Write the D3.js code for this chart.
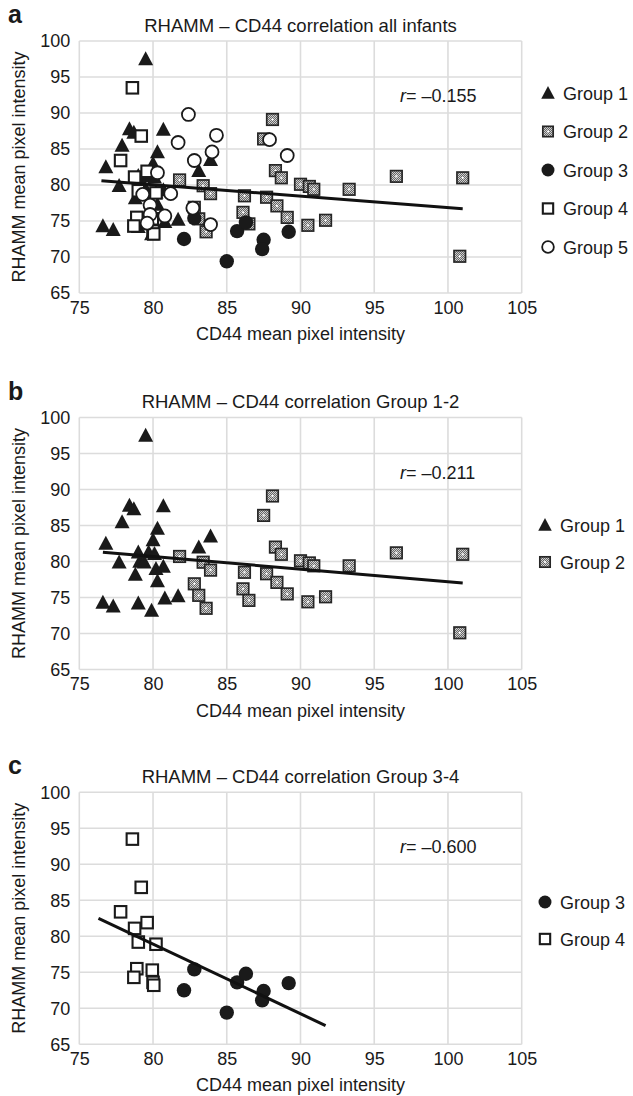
<!DOCTYPE html>
<html><head><meta charset="utf-8">
<script src="https://cdn.jsdelivr.net/npm/d3@7"></script>
<style>
html,body{margin:0;padding:0;background:#fff;}
text{font-family:"Liberation Sans",Arial,Helvetica,sans-serif;fill:#1a1a1a;}
</style></head>
<body><svg id="c" width="633" height="1096"></svg>
<script>
// ---------- data ----------
const xTicks = [75, 80, 85, 90, 95, 100, 105];
const yTicks = [65, 70, 75, 80, 85, 90, 95, 100];
const group1 = [[79.5,97.5],[78.4,87.8],[78.7,87.3],[80.7,87.7],[77.9,85.5],[80.3,84.6],[80.0,83.0],[76.8,82.5],[83.9,83.5],[83.1,82.0],[79.0,81.3],[79.7,81.3],[80.1,81.1],[77.7,79.9],[79.1,80.0],[79.4,79.9],[80.2,79.0],[80.7,79.3],[78.8,78.2],[80.3,77.3],[76.6,74.3],[77.3,73.8],[79.0,74.2],[79.9,73.2],[80.8,74.9],[81.7,75.2]];
const group2 = [[88.1,89.1],[87.5,86.4],[88.3,82.0],[88.7,81.0],[81.8,80.7],[83.4,79.9],[83.9,78.8],[86.2,78.5],[87.7,78.3],[88.4,77.1],[89.1,75.5],[90.0,80.1],[90.6,79.8],[90.9,79.4],[82.8,76.9],[83.1,75.3],[83.6,73.5],[86.1,76.2],[86.5,74.6],[90.5,74.4],[91.7,75.1],[93.3,79.4],[96.5,81.2],[101.0,81.0],[100.8,70.1]];
const group3 = [[82.8,75.4],[82.1,72.5],[85.0,69.4],[85.7,73.6],[86.3,74.8],[87.5,72.4],[87.4,71.1],[89.2,73.5]];
const group4 = [[78.6,93.5],[79.2,86.8],[77.8,83.4],[78.75,81.1],[79.6,81.9],[79.0,79.2],[80.2,78.9],[78.9,75.5],[78.7,74.3],[79.95,75.3],[80.0,73.6],[80.05,73.2]];
const group5 = [[82.4,89.8],[84.3,86.9],[81.7,85.9],[84.0,84.6],[82.8,83.4],[87.9,86.3],[89.1,84.1],[80.3,81.7],[79.3,78.7],[81.2,78.8],[79.8,77.2],[82.7,76.8],[79.8,75.9],[80.8,75.7],[79.6,74.7],[83.9,74.5]];
const trendA = [[76.5,80.6],[101.0,76.7]];
const trendB = [[76.6,81.3],[101.0,77.0]];
const trendC = [[76.3,82.5],[91.7,67.6]];
const panelLabels = ["a","b","c"];
const titles = ["RHAMM \u2013 CD44 correlation all infants","RHAMM \u2013 CD44 correlation Group 1-2","RHAMM \u2013 CD44 correlation Group 3-4"];
const rValues = ["\u20130.155","\u20130.211","\u20130.600"];
const groupNames = ["Group 1","Group 2","Group 3","Group 4","Group 5"];
const xTitle = "CD44 mean pixel intensity";
const yTitle = "RHAMM mean pixel intensity";

// ---------- drawing ----------
const svg = d3.select("#c");
const defs = svg.append("defs");
const pat = defs.append("pattern").attr("id","dots").attr("width",2).attr("height",2).attr("patternUnits","userSpaceOnUse");
pat.append("rect").attr("width",2).attr("height",2).attr("fill","#666");
pat.append("rect").attr("width",1).attr("height",1).attr("fill","#d0d0d0");
pat.append("rect").attr("x",1).attr("y",1).attr("width",1).attr("height",1).attr("fill","#d0d0d0");

const allGroups = [group1, group2, group3, group4, group5];

function drawMarker(g, type, cx, cy, s) {
  s = s || 1;
  if (type === 0) {
    const w = 15*s, h = 14*s;
    g.append("path").attr("d",`M${cx},${cy-h*0.55}L${cx+w/2},${cy+h*0.45}L${cx-w/2},${cy+h*0.45}Z`)
      .attr("fill","#1a1a1a");
  } else if (type === 1) {
    const a = 11.5*s;
    g.append("rect").attr("x",cx-a/2).attr("y",cy-a/2).attr("width",a).attr("height",a)
      .attr("fill","url(#dots)").attr("stroke","#262626").attr("stroke-width",1.7);
    g.append("circle").attr("cx",cx).attr("cy",cy).attr("r",1.1).attr("fill","#fff");
  } else if (type === 2) {
    g.append("circle").attr("cx",cx).attr("cy",cy).attr("r",7.2*s).attr("fill","#1a1a1a");
  } else if (type === 3) {
    const a = 11.5*s;
    g.append("rect").attr("x",cx-a/2).attr("y",cy-a/2).attr("width",a).attr("height",a)
      .attr("fill","#fff").attr("stroke","#1a1a1a").attr("stroke-width",2.1);
  } else {
    g.append("circle").attr("cx",cx).attr("cy",cy).attr("r",6.5*s).attr("fill","#fff")
      .attr("stroke","#1a1a1a").attr("stroke-width",1.8);
  }
}

const panels = [
  {top:41, groups:[0,1,2,3,4], trend:trendA, legY:93, legStep:38.5, legX:548},
  {top:417.5, groups:[0,1], trend:trendB, legY:525, legStep:37, legX:545},
  {top:792.3, groups:[2,3], trend:trendC, legY:902, legStep:37, legX:545}
];
const H = 252, L = 79.3, R = 521.7;

panels.forEach((p, i) => {
  const g = svg.append("g");
  const x = d3.scaleLinear().domain([75,105]).range([L,R]);
  const y = d3.scaleLinear().domain([65,100]).range([p.top+H, p.top]);

  g.append("g").selectAll("line").data(xTicks).join("line")
    .attr("x1",d=>x(d)).attr("x2",d=>x(d)).attr("y1",p.top).attr("y2",p.top+H)
    .attr("stroke","#dcdcdc").attr("stroke-width",1.6);
  g.append("g").selectAll("line").data(yTicks).join("line")
    .attr("x1",L).attr("x2",R).attr("y1",d=>y(d)).attr("y2",d=>y(d))
    .attr("stroke","#dcdcdc").attr("stroke-width",1.6);

  const xa = g.append("g").attr("transform",`translate(0,${p.top+H})`)
    .call(d3.axisBottom(x).tickValues(xTicks).tickSize(0).tickPadding(8));
  const ya = g.append("g").attr("transform",`translate(${L},0)`)
    .call(d3.axisLeft(y).tickValues(yTicks).tickSize(0).tickPadding(9));
  [xa, ya].forEach(a => {
    a.select(".domain").remove();
    a.selectAll("text").attr("font-size",18).attr("fill","#1a1a1a")
      .attr("font-family",'"Liberation Sans",Arial,sans-serif');
  });

  g.append("text").attr("x",(L+R)/2).attr("y",p.top-9.5).attr("text-anchor","middle")
    .attr("font-size",18.5).text(titles[i]);
  g.append("text").attr("x",8).attr("y",p.top-18).attr("font-size",25).attr("font-weight","bold")
    .text(panelLabels[i]);
  g.append("text").attr("x",(L+R)/2).attr("y",p.top+H+47).attr("text-anchor","middle")
    .attr("font-size",18).text(xTitle);
  g.append("text").attr("transform",`translate(25,${p.top+H/2}) rotate(-90)`).attr("text-anchor","middle")
    .attr("font-size",18).text(yTitle);

  const rt = g.append("text").attr("x",400).attr("y",p.top+61).attr("font-size",18);
  rt.append("tspan").attr("font-style","italic").text("r");
  rt.append("tspan").text("= " + rValues[i]);

  const pg = g.append("g");
  p.groups.forEach(gi => {
    allGroups[gi].forEach(d => drawMarker(pg, gi, x(d[0]), y(d[1])));
  });

  g.append("path").datum(p.trend)
    .attr("d", d3.line().x(d=>x(d[0])).y(d=>y(d[1])))
    .attr("stroke","#111").attr("stroke-width",3).attr("fill","none");

  p.groups.forEach((gi, k) => {
    const ly = p.legY + k*p.legStep;
    drawMarker(g, gi, p.legX, ly, 0.9);
    g.append("text").attr("x",p.legX+15).attr("y",ly+6.5).attr("font-size",18).text(groupNames[gi]);
  });
});
</script></body></html>
